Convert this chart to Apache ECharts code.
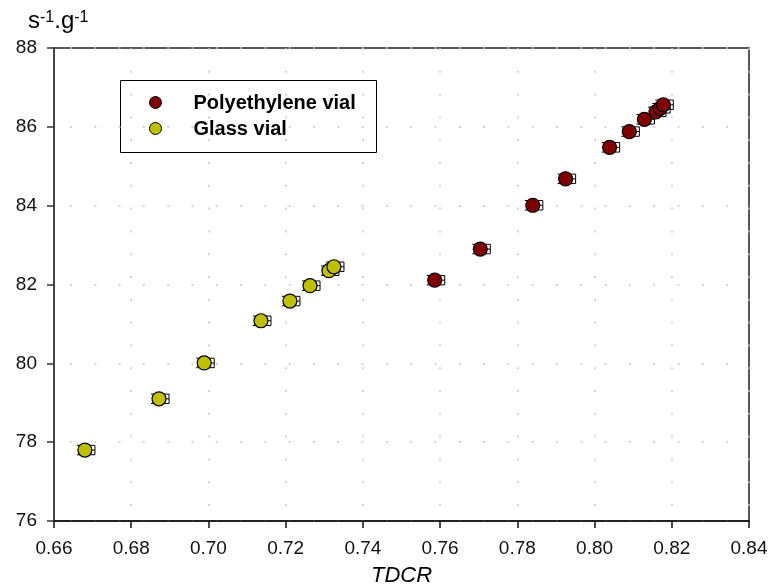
<!DOCTYPE html>
<html>
<head>
<meta charset="utf-8">
<script src="https://cdn.jsdelivr.net/npm/echarts@6/dist/echarts.min.js"></script>
<style>
  html, body { margin: 0; padding: 0; background: #fff; }
  #chart { width: 776px; height: 587px; }
</style>
</head>
<body>
<div id="chart"></div>
<script>
// Count rate per gram versus TDCR for two vial types
const glassTDCR = [0.6680, 0.6872, 0.6989, 0.7136, 0.7211, 0.7263, 0.7312, 0.7325];
const glassRate = [77.80, 79.10, 80.01, 81.08, 81.58, 81.97, 82.35, 82.45];

const peTDCR = [0.7586, 0.7704, 0.7840, 0.7925, 0.8039, 0.8090, 0.8129, 0.8159, 0.8170, 0.8178];
const peRate = [82.11, 82.90, 84.01, 84.68, 85.48, 85.88, 86.19, 86.38, 86.47, 86.56];

// uncertainty half-widths
const tdcrErr = 0.0026;
const rateErr = 0.12;

const xTickLabels = ['0.66', '0.68', '0.70', '0.72', '0.74', '0.76', '0.78', '0.80', '0.82', '0.84'];
const yTickLabels = ['76', '78', '80', '82', '84', '86', '88'];

const seriesNames = ['Polyethylene vial', 'Glass vial'];
const seriesColors = ['#800000', '#bfbf00'];

const FONT = '"Liberation Sans", Arial, sans-serif';

function pairs(xs, ys) {
  return xs.map((x, i) => [x, ys[i]]);
}

function errorBars(params, api) {
  const x = api.value(0), y = api.value(1);
  const c = api.coord([x, y]);
  const r = api.coord([x + tdcrErr, y]);
  const t = api.coord([x, y + rateErr]);
  const b = api.coord([x, y - rateErr]);
  const left = c[0] - 8;
  const style = { stroke: '#000', lineWidth: 1 };
  return {
    type: 'group',
    children: [
      { type: 'line', shape: { x1: c[0], y1: c[1], x2: r[0], y2: c[1] }, style },
      { type: 'line', shape: { x1: r[0], y1: t[1], x2: r[0], y2: b[1] }, style },
      { type: 'line', shape: { x1: left, y1: t[1], x2: r[0], y2: t[1] }, style },
      { type: 'line', shape: { x1: left, y1: b[1], x2: r[0], y2: b[1] }, style }
    ]
  };
}

const chart = echarts.init(document.getElementById('chart'), null, { renderer: 'canvas' });

const option = {
  animation: false,
  backgroundColor: '#fff',
  title: {
    left: 23,
    top: 4.5,
    text: '{b|s}{p|-1}{b|.g}{p|-1}',
    textStyle: {
      fontWeight: 'normal',
      rich: {
        b: { fontFamily: FONT, fontSize: 24, fontWeight: 'normal', color: '#000', lineHeight: 24, verticalAlign: 'bottom' },
        p: { fontFamily: FONT, fontSize: 16, fontWeight: 'normal', color: '#000', lineHeight: 19, verticalAlign: 'top' }
      }
    }
  },
  grid: {
    left: 54, right: 27, top: 48, bottom: 66,
    outerBoundsMode: 'none',
    containLabel: false,
    show: true, borderColor: '#222', borderWidth: 1.5, backgroundColor: 'transparent'
  },
  xAxis: {
    type: 'value',
    min: 0.66, max: 0.84, interval: 0.02,
    name: 'TDCR',
    nameLocation: 'middle',
    nameGap: 44,
    nameTextStyle: { fontFamily: FONT, fontSize: 22, fontStyle: 'italic', color: '#000' },
    axisLine: { show: true, onZero: false, lineStyle: { color: '#111', width: 1.5 } },
    axisTick: { show: true, inside: false, length: 7, lineStyle: { color: '#111', width: 1.5 } },
    axisLabel: {
      margin: 18, fontFamily: FONT, fontSize: 19, color: '#111',
      formatter: v => xTickLabels[Math.round((v - 0.66) / 0.02)]
    },
    splitLine: { show: true, lineStyle: { color: '#c4c4c4', width: 1.5, type: [2, 20.8], dashOffset: 0 } }
  },
  yAxis: {
    type: 'value',
    min: 76, max: 88, interval: 2,
    axisLine: { show: true, onZero: false, lineStyle: { color: '#444', width: 2 } },
    axisTick: { show: true, inside: false, length: 7, lineStyle: { color: '#333', width: 1.5 } },
    axisLabel: {
      margin: 17, fontFamily: FONT, fontSize: 19, color: '#111',
      formatter: v => yTickLabels[Math.round((v - 76) / 2)]
    },
    splitLine: { show: true, lineStyle: { color: '#c4c4c4', width: 1.5, type: [2, 22.3], dashOffset: 8.3 } }
  },
  graphic: [
    {
      type: 'group', left: 120, top: 80, z: 100,
      children: [
        { type: 'rect', shape: { x: 0, y: 0, width: 256, height: 72 }, style: { fill: '#fff', stroke: '#000', lineWidth: 1 } },
        { type: 'circle', shape: { cx: 35, cy: 22, r: 6 }, style: { fill: seriesColors[0], stroke: '#000', lineWidth: 1 } },
        { type: 'circle', shape: { cx: 35, cy: 48, r: 6 }, style: { fill: seriesColors[1], stroke: '#000', lineWidth: 1 } },
        { type: 'text', x: 73, y: 23, style: { text: seriesNames[0], fontFamily: FONT, fontSize: 20, fontWeight: 'bold', fill: '#000', verticalAlign: 'middle' } },
        { type: 'text', x: 73, y: 49, style: { text: seriesNames[1], fontFamily: FONT, fontSize: 20, fontWeight: 'bold', fill: '#000', verticalAlign: 'middle' } }
      ]
    }
  ],
  series: [
    {
      type: 'custom', name: seriesNames[0] + ' error', z: 2,
      renderItem: errorBars, data: pairs(peTDCR, peRate)
    },
    {
      type: 'custom', name: seriesNames[1] + ' error', z: 2,
      renderItem: errorBars, data: pairs(glassTDCR, glassRate)
    },
    {
      type: 'scatter', name: seriesNames[0], z: 3,
      symbol: 'circle', symbolSize: 14,
      itemStyle: { color: seriesColors[0], borderColor: '#000', borderWidth: 1.2, opacity: 1 },
      data: pairs(peTDCR, peRate)
    },
    {
      type: 'scatter', name: seriesNames[1], z: 3,
      symbol: 'circle', symbolSize: 14,
      itemStyle: { color: seriesColors[1], borderColor: '#000', borderWidth: 1.2, opacity: 1 },
      data: pairs(glassTDCR, glassRate)
    }
  ]
};

chart.setOption(option);
</script>
</body>
</html>
